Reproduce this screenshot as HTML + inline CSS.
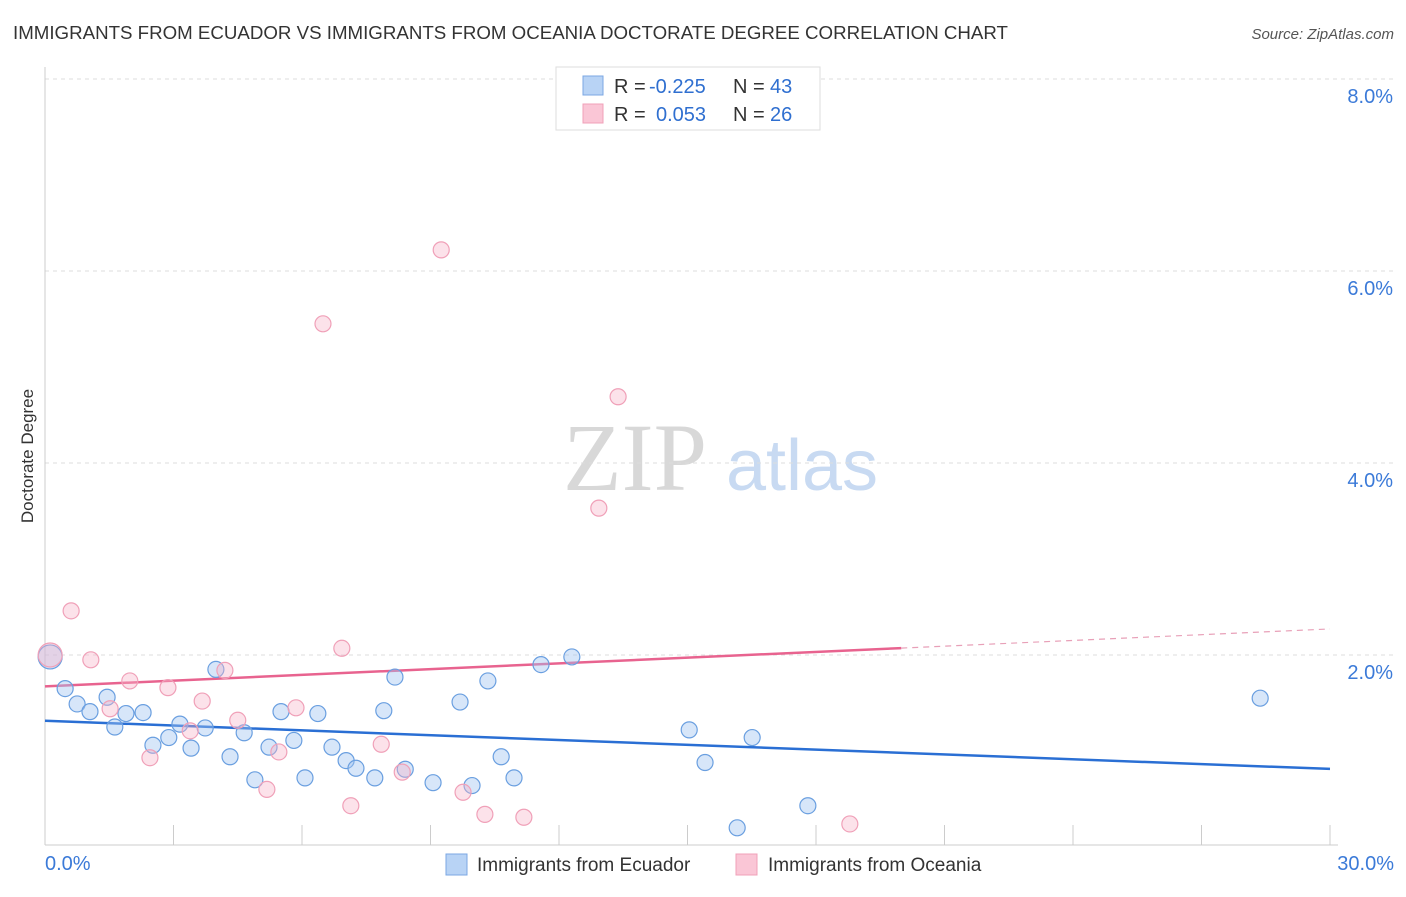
<!DOCTYPE html>
<html><head><meta charset="utf-8"><style>
body{margin:0;background:#fff;font-family:"Liberation Sans",sans-serif;}
</style></head><body>
<svg id="chart" width="1406" height="892" xmlns="http://www.w3.org/2000/svg" font-family="Liberation Sans, sans-serif">
<text x="13" y="39" font-size="18" fill="#333" textLength="995" lengthAdjust="spacingAndGlyphs">IMMIGRANTS FROM ECUADOR VS IMMIGRANTS FROM OCEANIA DOCTORATE DEGREE CORRELATION CHART</text>
<text x="1394" y="39" font-size="15" fill="#555" font-style="italic" text-anchor="end">Source: ZipAtlas.com</text>
<text transform="translate(33,456) rotate(-90)" font-size="17" fill="#333" text-anchor="middle">Doctorate Degree</text>
<g><text x="635" y="490" style="font-family:'Liberation Serif',serif" font-size="96" fill="#d8d8d8" text-anchor="middle">ZIP</text><text x="802" y="490" font-size="72" fill="#c8daf2" text-anchor="middle">atlas</text></g>
<g id="grid"></g><g id="axes"></g><g id="lines"></g><g id="pts"></g>
<g>
<rect x="556" y="67" width="264" height="63" fill="#fff" stroke="#ddd"/>
<rect x="583" y="76" width="20" height="19" fill="#b8d3f5" stroke="#7ba7e3"/>
<rect x="583" y="104" width="20" height="19" fill="#fac6d6" stroke="#f0a0b8"/>
<text x="614" y="93" font-size="20" fill="#333">R = <tspan fill="#2f6fd0" x="649">-0.225</tspan><tspan x="733">N = </tspan><tspan fill="#2f6fd0" x="770">43</tspan></text>
<text x="614" y="121" font-size="20" fill="#333">R = <tspan fill="#2f6fd0" x="656">0.053</tspan><tspan x="733">N = </tspan><tspan fill="#2f6fd0" x="770">26</tspan></text>
</g>
<g>
<rect x="446" y="854" width="21" height="21" fill="#b8d3f5" stroke="#7ba7e3"/>
<text x="477" y="871" font-size="19" fill="#333">Immigrants from Ecuador</text>
<rect x="736" y="854" width="21" height="21" fill="#fac6d6" stroke="#f0a0b8"/>
<text x="768" y="871" font-size="19" fill="#333">Immigrants from Oceania</text>
</g>
</svg>
<script>
const blueX=[0.12,0.47,0.75,1.05,1.45,1.63,1.89,2.29,2.52,2.89,3.15,3.41,3.74,3.99,4.32,4.65,4.90,5.23,5.51,5.81,6.07,6.37,6.70,7.03,7.26,7.70,7.91,8.17,8.41,9.06,9.69,9.97,10.34,10.65,10.95,11.58,12.30,15.04,15.41,16.16,16.51,17.81,28.37];
const blueY=[1.98,1.65,1.49,1.41,1.56,1.25,1.39,1.40,1.06,1.14,1.28,1.03,1.24,1.85,0.94,1.19,0.70,1.04,1.41,1.11,0.72,1.39,1.04,0.90,0.82,0.72,1.42,1.77,0.81,0.67,1.51,0.64,1.73,0.94,0.72,1.90,1.98,1.22,0.88,0.20,1.14,0.43,1.55];
const pinkX=[0.12,0.61,1.07,1.52,1.98,2.45,2.87,3.39,3.67,4.20,4.50,5.18,5.46,5.86,6.49,6.93,7.14,7.85,8.34,9.25,9.76,10.27,11.18,12.93,13.38,18.79];
const pinkY=[2.00,2.46,1.95,1.44,1.73,0.93,1.66,1.21,1.52,1.84,1.32,0.60,0.99,1.45,5.45,2.07,0.43,1.07,0.78,6.22,0.57,0.34,0.31,3.53,4.69,0.24];
const yTicks=[2,4,6,8];
const xTicks=[0,3,6,9,12,15,18,21,24,27,30];
const NS="http://www.w3.org/2000/svg";
const X=v=>45+v*(1285/30), Y=v=>847-v*96;
function mk(p,t,a){const e=document.createElementNS(NS,t);for(const k in a)e.setAttribute(k,a[k]);document.getElementById(p).appendChild(e);return e;}
yTicks.forEach(t=>{
 const l=mk('grid','line',{x1:45,x2:1395,y1:Y(t),y2:Y(t),stroke:'#ddd','stroke-dasharray':'4,4'});
 
 
 const tx=mk('grid','text',{x:1393,y:Y(t)+24,'font-size':20,fill:'#3b7ad8','text-anchor':'end'});tx.textContent=t.toFixed(1)+'%';
 
 
});
mk('axes','line',{x1:45,x2:45,y1:67,y2:845,stroke:'#ccc'});
mk('axes','line',{x1:45,x2:1338,y1:845,y2:845,stroke:'#ccc'});
xTicks.forEach(t=>{const l=mk('axes','line',{x1:X(t),x2:X(t),y1:825,y2:845,stroke:'#ccc'});
 
 });
[[0,'start',45],[30,'end',1394]].forEach(([t,a,x])=>{const tx=mk('axes','text',{x:x,y:870,'font-size':20,fill:'#3b7ad8','text-anchor':a});tx.textContent=t.toFixed(1)+'%';
 
 });
function reg(xs,ys){const n=xs.length;let mx=0,my=0;xs.forEach((x,i)=>{mx+=x;my+=ys[i];});mx/=n;my/=n;let sxy=0,sxx=0;xs.forEach((x,i)=>{sxy+=(x-mx)*(ys[i]-my);sxx+=(x-mx)**2;});const b=sxy/sxx;return [my-b*mx,b];}
const [ba,bb]=reg(blueX,blueY);
const bl=mk('lines','line',{x1:X(0),y1:Y(ba),x2:X(30),y2:Y(ba+bb*30),stroke:'#2a6fd4','stroke-width':2.5});


const [pa,pb]=reg(pinkX,pinkY);const pm=Math.max(...pinkX)+1.2;
const pl=mk('lines','line',{x1:X(0),y1:Y(pa),x2:X(pm),y2:Y(pa+pb*pm),stroke:'#e8638f','stroke-width':2.5});


const pd=mk('lines','line',{x1:X(pm),y1:Y(pa+pb*pm),x2:X(30),y2:Y(pa+pb*30),stroke:'#e8a0b8','stroke-width':1.2,'stroke-dasharray':'6,5'});


function pts(xs,ys,fill,stroke,name){xs.forEach((x,i)=>{const r=i===0&&x<0.5?12:8;const c=mk('pts','circle',{cx:X(x),cy:Y(ys[i]),r:r,fill:fill,stroke:stroke,'stroke-width':1.2});
 
 });}
pts(blueX,blueY,'rgba(160,196,240,0.42)','#6a9fe0','ecuador-point');
pts(pinkX,pinkY,'rgba(248,180,200,0.38)','#f0a0b8','oceania-point');
</script>
</body></html>
